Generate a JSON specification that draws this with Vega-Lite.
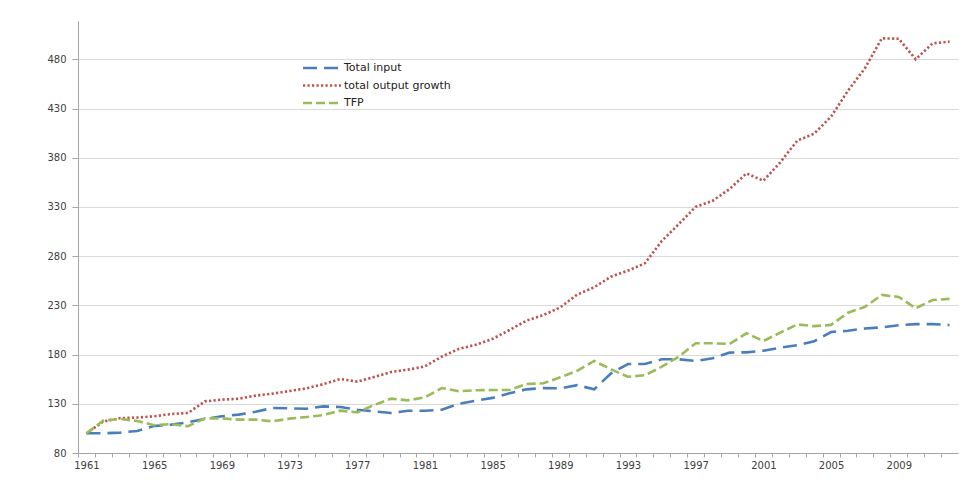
{
  "$schema": "https://vega.github.io/schema/vega-lite/v6.json",
  "autosize": "none",
  "width": 880,
  "height": 432,
  "padding": {"left": 78, "top": 21, "right": 6, "bottom": 31},
  "background": "white",
  "config": {"view": {"stroke": null}, "font": "DejaVu Sans"},
  "data": {"values": [
    {"year": 1961, "series": "Total input", "value": 100},
    {"year": 1962, "series": "Total input", "value": 100},
    {"year": 1963, "series": "Total input", "value": 100.7},
    {"year": 1964, "series": "Total input", "value": 102.4},
    {"year": 1965, "series": "Total input", "value": 107.4},
    {"year": 1966, "series": "Total input", "value": 108.8},
    {"year": 1967, "series": "Total input", "value": 111.2},
    {"year": 1968, "series": "Total input", "value": 114.6},
    {"year": 1969, "series": "Total input", "value": 117.3},
    {"year": 1970, "series": "Total input", "value": 119},
    {"year": 1971, "series": "Total input", "value": 122},
    {"year": 1972, "series": "Total input", "value": 125.7},
    {"year": 1973, "series": "Total input", "value": 125.4},
    {"year": 1974, "series": "Total input", "value": 125},
    {"year": 1975, "series": "Total input", "value": 127.4},
    {"year": 1976, "series": "Total input", "value": 126.7},
    {"year": 1977, "series": "Total input", "value": 124},
    {"year": 1978, "series": "Total input", "value": 122.3},
    {"year": 1979, "series": "Total input", "value": 120.7},
    {"year": 1980, "series": "Total input", "value": 123},
    {"year": 1981, "series": "Total input", "value": 123},
    {"year": 1982, "series": "Total input", "value": 124},
    {"year": 1983, "series": "Total input", "value": 130},
    {"year": 1984, "series": "Total input", "value": 133.2},
    {"year": 1985, "series": "Total input", "value": 136},
    {"year": 1986, "series": "Total input", "value": 140.7},
    {"year": 1987, "series": "Total input", "value": 144.7},
    {"year": 1988, "series": "Total input", "value": 146},
    {"year": 1989, "series": "Total input", "value": 145.7},
    {"year": 1990, "series": "Total input", "value": 149},
    {"year": 1991, "series": "Total input", "value": 144.7},
    {"year": 1992, "series": "Total input", "value": 161},
    {"year": 1993, "series": "Total input", "value": 170.4},
    {"year": 1994, "series": "Total input", "value": 170.4},
    {"year": 1995, "series": "Total input", "value": 175.2},
    {"year": 1996, "series": "Total input", "value": 175.2},
    {"year": 1997, "series": "Total input", "value": 173.5},
    {"year": 1998, "series": "Total input", "value": 176.2},
    {"year": 1999, "series": "Total input", "value": 182},
    {"year": 2000, "series": "Total input", "value": 182.3},
    {"year": 2001, "series": "Total input", "value": 184},
    {"year": 2002, "series": "Total input", "value": 187},
    {"year": 2003, "series": "Total input", "value": 189.5},
    {"year": 2004, "series": "Total input", "value": 193.5},
    {"year": 2005, "series": "Total input", "value": 202.9},
    {"year": 2006, "series": "Total input", "value": 204.3},
    {"year": 2007, "series": "Total input", "value": 206.5},
    {"year": 2008, "series": "Total input", "value": 207.7},
    {"year": 2009, "series": "Total input", "value": 209.9},
    {"year": 2010, "series": "Total input", "value": 211},
    {"year": 2011, "series": "Total input", "value": 211},
    {"year": 2012, "series": "Total input", "value": 210},
    {"year": 1961, "series": "total output growth", "value": 100},
    {"year": 1962, "series": "total output growth", "value": 112},
    {"year": 1963, "series": "total output growth", "value": 115.5},
    {"year": 1964, "series": "total output growth", "value": 116},
    {"year": 1965, "series": "total output growth", "value": 117.3},
    {"year": 1966, "series": "total output growth", "value": 119.6},
    {"year": 1967, "series": "total output growth", "value": 120.7},
    {"year": 1968, "series": "total output growth", "value": 132.5},
    {"year": 1969, "series": "total output growth", "value": 134.2},
    {"year": 1970, "series": "total output growth", "value": 135.2},
    {"year": 1971, "series": "total output growth", "value": 138.3},
    {"year": 1972, "series": "total output growth", "value": 140.3},
    {"year": 1973, "series": "total output growth", "value": 143},
    {"year": 1974, "series": "total output growth", "value": 145.7},
    {"year": 1975, "series": "total output growth", "value": 150},
    {"year": 1976, "series": "total output growth", "value": 155.2},
    {"year": 1977, "series": "total output growth", "value": 152.5},
    {"year": 1978, "series": "total output growth", "value": 157.2},
    {"year": 1979, "series": "total output growth", "value": 162.3},
    {"year": 1980, "series": "total output growth", "value": 164.7},
    {"year": 1981, "series": "total output growth", "value": 168},
    {"year": 1982, "series": "total output growth", "value": 178},
    {"year": 1983, "series": "total output growth", "value": 185.7},
    {"year": 1984, "series": "total output growth", "value": 190},
    {"year": 1985, "series": "total output growth", "value": 196},
    {"year": 1986, "series": "total output growth", "value": 205},
    {"year": 1987, "series": "total output growth", "value": 214.5},
    {"year": 1988, "series": "total output growth", "value": 220.2},
    {"year": 1989, "series": "total output growth", "value": 228},
    {"year": 1990, "series": "total output growth", "value": 241},
    {"year": 1991, "series": "total output growth", "value": 248.4},
    {"year": 1992, "series": "total output growth", "value": 259.2},
    {"year": 1993, "series": "total output growth", "value": 265.3},
    {"year": 1994, "series": "total output growth", "value": 272.8},
    {"year": 1995, "series": "total output growth", "value": 295.5},
    {"year": 1996, "series": "total output growth", "value": 312.6},
    {"year": 1997, "series": "total output growth", "value": 330.2},
    {"year": 1998, "series": "total output growth", "value": 336.3},
    {"year": 1999, "series": "total output growth", "value": 348.2},
    {"year": 2000, "series": "total output growth", "value": 364.1},
    {"year": 2001, "series": "total output growth", "value": 356.7},
    {"year": 2002, "series": "total output growth", "value": 375.4},
    {"year": 2003, "series": "total output growth", "value": 397.4},
    {"year": 2004, "series": "total output growth", "value": 404.5},
    {"year": 2005, "series": "total output growth", "value": 421.8},
    {"year": 2006, "series": "total output growth", "value": 448.2},
    {"year": 2007, "series": "total output growth", "value": 471},
    {"year": 2008, "series": "total output growth", "value": 501.4},
    {"year": 2009, "series": "total output growth", "value": 501},
    {"year": 2010, "series": "total output growth", "value": 480.1},
    {"year": 2011, "series": "total output growth", "value": 496.3},
    {"year": 2012, "series": "total output growth", "value": 498},
    {"year": 1961, "series": "TFP", "value": 100},
    {"year": 1962, "series": "TFP", "value": 113},
    {"year": 1963, "series": "TFP", "value": 114.6},
    {"year": 1964, "series": "TFP", "value": 112.5},
    {"year": 1965, "series": "TFP", "value": 108.3},
    {"year": 1966, "series": "TFP", "value": 109.3},
    {"year": 1967, "series": "TFP", "value": 107.2},
    {"year": 1968, "series": "TFP", "value": 115.2},
    {"year": 1969, "series": "TFP", "value": 115.2},
    {"year": 1970, "series": "TFP", "value": 113.9},
    {"year": 1971, "series": "TFP", "value": 113.9},
    {"year": 1972, "series": "TFP", "value": 112.2},
    {"year": 1973, "series": "TFP", "value": 114.9},
    {"year": 1974, "series": "TFP", "value": 116.6},
    {"year": 1975, "series": "TFP", "value": 118.6},
    {"year": 1976, "series": "TFP", "value": 123},
    {"year": 1977, "series": "TFP", "value": 121.3},
    {"year": 1978, "series": "TFP", "value": 128.8},
    {"year": 1979, "series": "TFP", "value": 135.2},
    {"year": 1980, "series": "TFP", "value": 133.5},
    {"year": 1981, "series": "TFP", "value": 136.6},
    {"year": 1982, "series": "TFP", "value": 146},
    {"year": 1983, "series": "TFP", "value": 142.7},
    {"year": 1984, "series": "TFP", "value": 143.7},
    {"year": 1985, "series": "TFP", "value": 144},
    {"year": 1986, "series": "TFP", "value": 144},
    {"year": 1987, "series": "TFP", "value": 150.1},
    {"year": 1988, "series": "TFP", "value": 150.8},
    {"year": 1989, "series": "TFP", "value": 157},
    {"year": 1990, "series": "TFP", "value": 163.5},
    {"year": 1991, "series": "TFP", "value": 173.5},
    {"year": 1992, "series": "TFP", "value": 165},
    {"year": 1993, "series": "TFP", "value": 157.5},
    {"year": 1994, "series": "TFP", "value": 159},
    {"year": 1995, "series": "TFP", "value": 167.7},
    {"year": 1996, "series": "TFP", "value": 177.9},
    {"year": 1997, "series": "TFP", "value": 191.5},
    {"year": 1998, "series": "TFP", "value": 191.5},
    {"year": 1999, "series": "TFP", "value": 190.8},
    {"year": 2000, "series": "TFP", "value": 201.6},
    {"year": 2001, "series": "TFP", "value": 193.8},
    {"year": 2002, "series": "TFP", "value": 202.3},
    {"year": 2003, "series": "TFP", "value": 210.7},
    {"year": 2004, "series": "TFP", "value": 208.9},
    {"year": 2005, "series": "TFP", "value": 210.2},
    {"year": 2006, "series": "TFP", "value": 222.5},
    {"year": 2007, "series": "TFP", "value": 228.5},
    {"year": 2008, "series": "TFP", "value": 240.6},
    {"year": 2009, "series": "TFP", "value": 238.6},
    {"year": 2010, "series": "TFP", "value": 227.1},
    {"year": 2011, "series": "TFP", "value": 235.5},
    {"year": 2012, "series": "TFP", "value": 236.6}
  ]},
  "mark": {"type": "line", "strokeWidth": 2.6, "strokeCap": "butt"},
  "encoding": {
    "x": {
      "field": "year", "type": "quantitative",
      "scale": {"domain": [1960.5, 2012.5], "nice": false, "zero": false},
      "axis": {
        "title": null,
        "values": [1961,1962,1963,1964,1965,1966,1967,1968,1969,1970,1971,1972,1973,1974,1975,1976,1977,1978,1979,1980,1981,1982,1983,1984,1985,1986,1987,1988,1989,1990,1991,1992,1993,1994,1995,1996,1997,1998,1999,2000,2001,2002,2003,2004,2005,2006,2007,2008,2009,2010,2011,2012,2013],
        "format": "d",
        "labelExpr": "((datum.value - 1961) % 4 === 0 && datum.value < 2013) ? datum.label : ''",
        "tickOffset": -8.46,
        "labelOffset": 8.46,
        "labelOverlap": false,
        "labelFlush": false,
        "grid": false,
        "domainColor": "#a6a6a6",
        "tickColor": "#a6a6a6",
        "tickSize": 4,
        "labelPadding": 3,
        "labelFontSize": 10,
        "labelColor": "#404040",
        "labelFont": "DejaVu Sans"
      }
    },
    "y": {
      "field": "value", "type": "quantitative",
      "scale": {"domain": [80, 519], "nice": false, "zero": false},
      "axis": {
        "title": null,
        "values": [80, 130, 180, 230, 280, 330, 380, 430, 480],
        "grid": true,
        "gridColor": "#d9d9d9",
        "gridWidth": 1.2,
        "domainColor": "#a6a6a6",
        "tickColor": "#a6a6a6",
        "tickSize": 6,
        "labelPadding": 6,
        "labelFontSize": 10,
        "labelColor": "#404040",
        "labelFont": "DejaVu Sans"
      }
    },
    "color": {
      "field": "series", "type": "nominal",
      "scale": {"domain": ["Total input", "total output growth", "TFP"], "range": ["#4a7ebb", "#c0504d", "#9bbb59"]},
      "legend": {
        "title": null, "orient": "none", "legendX": 233, "legendY": 36,
        "symbolType": "M-2,0H2", "symbolSize": 361, "symbolStrokeWidth": 2.5,
        "labelFontSize": 11, "labelFont": "DejaVu Sans", "labelColor": "#222222",
        "labelOffset": 11, "rowPadding": 1.5
      }
    },
    "strokeDash": {
      "field": "series", "type": "nominal",
      "scale": {"domain": ["Total input", "total output growth", "TFP"], "range": [[14, 7], [2.2, 2.3], [9, 4]]},
      "legend": {
        "title": null, "orient": "none", "legendX": 233, "legendY": 36,
        "symbolType": "M-2,0H2", "symbolSize": 361, "symbolStrokeWidth": 2.5,
        "labelFontSize": 11, "labelFont": "DejaVu Sans", "labelColor": "#222222",
        "labelOffset": 11, "rowPadding": 1.5
      }
    }
  }
}
